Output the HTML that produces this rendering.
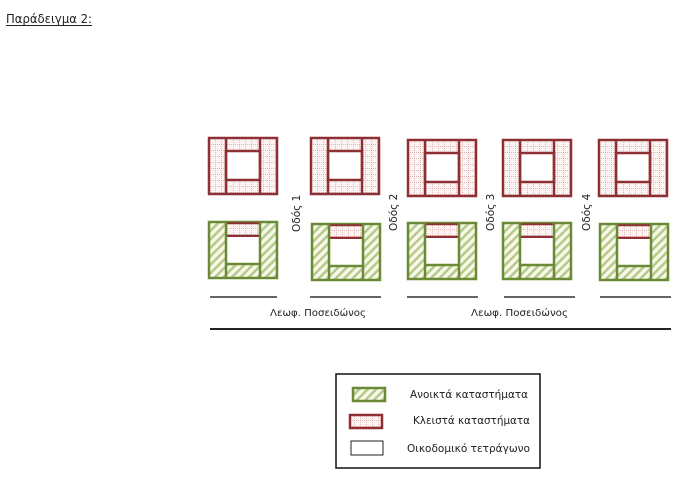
<!DOCTYPE html>
<html><head><meta charset="utf-8"><style>
html,body{margin:0;padding:0;background:#fff;width:689px;height:487px;overflow:hidden}
svg{display:block}
text{font-family:"DejaVu Sans","Liberation Sans",sans-serif;fill:#222}
</style></head><body>
<svg width="689" height="487" viewBox="0 0 689 487" xmlns="http://www.w3.org/2000/svg">
<defs>
<pattern id="dots" width="6" height="6" patternUnits="userSpaceOnUse">
<rect width="6" height="6" fill="#fdf3f3"/>
<path d="M0 0.5H6M0.5 0V6" stroke="#d9a0a0" stroke-width="0.7" stroke-dasharray="1 1"/>
</pattern>
<pattern id="hatch" width="6" height="6" patternUnits="userSpaceOnUse" patternTransform="rotate(45)">
<rect width="6" height="6" fill="#f6f9ea"/>
<rect x="0" y="0" width="2.5" height="6" fill="#b7c98a"/>
</pattern>
<g id="red">
<rect x="0" y="0" width="68" height="56" fill="url(#dots)" stroke="#8e2f33" stroke-width="2.5"/>
<rect x="17" y="13" width="34" height="29" fill="#fff" stroke="#8e2f33" stroke-width="2.5"/>
<line x1="17" y1="0" x2="17" y2="56" stroke="#8e2f33" stroke-width="2.5"/>
<line x1="51" y1="0" x2="51" y2="56" stroke="#8e2f33" stroke-width="2.5"/>
</g>
<g id="green">
<rect x="0" y="0" width="68" height="56" fill="url(#hatch)" stroke="#6b8a35" stroke-width="2.5"/>
<rect x="17" y="1" width="34" height="13" fill="url(#dots)"/>
<line x1="17" y1="14" x2="51" y2="14" stroke="#8e2f33" stroke-width="2.5"/>
<line x1="17" y1="1.3" x2="51" y2="1.3" stroke="#8e2f33" stroke-width="2"/>
<rect x="17" y="15" width="34" height="27" fill="#fff"/>
<line x1="17" y1="42" x2="51" y2="42" stroke="#6b8a35" stroke-width="2.5"/>
<line x1="17" y1="0" x2="17" y2="56" stroke="#6b8a35" stroke-width="2.5"/>
<line x1="51" y1="0" x2="51" y2="56" stroke="#6b8a35" stroke-width="2.5"/>
</g>
</defs>
<text x="6" y="23" font-size="12" textLength="86" lengthAdjust="spacingAndGlyphs">Παράδειγμα 2:</text>
<line x1="6" y1="25.5" x2="92" y2="25.5" stroke="#222" stroke-width="1"/>

<use href="#red" x="209" y="138"/>
<use href="#red" x="311" y="138"/>
<use href="#red" x="408" y="140"/>
<use href="#red" x="503" y="140"/>
<use href="#red" x="599" y="140"/>

<use href="#green" x="209" y="222"/>
<use href="#green" x="312" y="224"/>
<use href="#green" x="408" y="223"/>
<use href="#green" x="503" y="223"/>
<use href="#green" x="600" y="224"/>

<g font-size="10.5">
<text transform="translate(300,232) rotate(-90)">Οδός 1</text>
<text transform="translate(397,231) rotate(-90)">Οδός 2</text>
<text transform="translate(494,231) rotate(-90)">Οδός 3</text>
<text transform="translate(590,231) rotate(-90)">Οδός 4</text>
</g>

<g stroke="#333" stroke-width="1.5">
<line x1="210" y1="297" x2="277" y2="297"/>
<line x1="310" y1="297" x2="381" y2="297"/>
<line x1="407" y1="297" x2="478" y2="297"/>
<line x1="504" y1="297" x2="575" y2="297"/>
<line x1="600" y1="297" x2="671" y2="297"/>
</g>
<line x1="210" y1="329" x2="671" y2="329" stroke="#222" stroke-width="2"/>
<text x="270" y="316" font-size="10" textLength="96" lengthAdjust="spacingAndGlyphs">Λεωφ. Ποσειδώνος</text>
<text x="471" y="316" font-size="10" textLength="97" lengthAdjust="spacingAndGlyphs">Λεωφ. Ποσειδώνος</text>

<rect x="336" y="374" width="204" height="94" fill="#fff" stroke="#111" stroke-width="1.5"/>
<rect x="353" y="388" width="32" height="13" fill="url(#hatch)" stroke="#6b8a35" stroke-width="2.5"/>
<rect x="350" y="415" width="32" height="13" fill="url(#dots)" stroke="#8e2f33" stroke-width="2.5"/>
<rect x="351" y="441" width="32" height="14" fill="#fff" stroke="#222" stroke-width="1"/>
<g font-size="10.5">
<text x="410" y="398" textLength="118" lengthAdjust="spacingAndGlyphs">Ανοικτά καταστήματα</text>
<text x="413" y="424" textLength="117" lengthAdjust="spacingAndGlyphs">Κλειστά καταστήματα</text>
<text x="407" y="452" textLength="123" lengthAdjust="spacingAndGlyphs">Οικοδομικό τετράγωνο</text>
</g>
</svg>
</body></html>
